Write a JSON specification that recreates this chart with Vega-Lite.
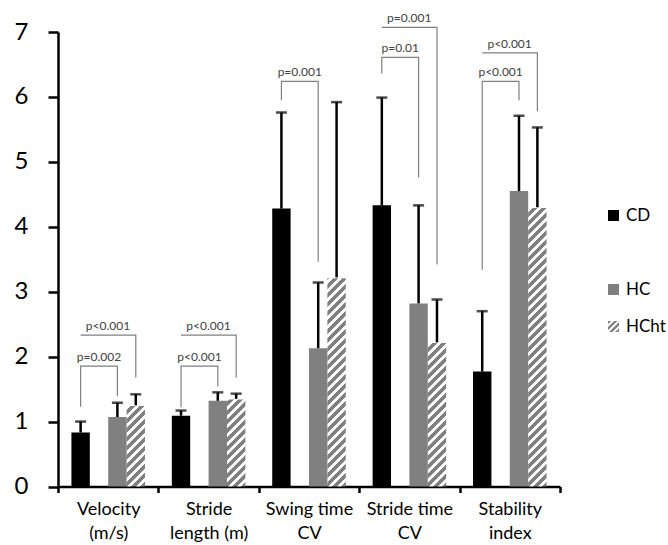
{
  "$schema": "https://vega.github.io/schema/vega-lite/v6.json",
  "width": 502,
  "height": 454.5,
  "autosize": {"type": "none"},
  "padding": {"left": 58, "top": 32, "right": 108, "bottom": 58.5},
  "config": {"view": {"stroke": null}, "font": "Lato"},
  "datasets": {
    "bars": [
      {"measure": "Velocity\n(m/s)", "group": "CD", "value": 0.83, "upper": 1.0},
      {"measure": "Velocity\n(m/s)", "group": "HC", "value": 1.07, "upper": 1.29},
      {"measure": "Velocity\n(m/s)", "group": "HCht", "value": 1.25, "upper": 1.42},
      {"measure": "Stride\nlength (m)", "group": "CD", "value": 1.09, "upper": 1.17},
      {"measure": "Stride\nlength (m)", "group": "HC", "value": 1.32, "upper": 1.45},
      {"measure": "Stride\nlength (m)", "group": "HCht", "value": 1.35, "upper": 1.43},
      {"measure": "Swing time\nCV", "group": "CD", "value": 4.28, "upper": 5.76},
      {"measure": "Swing time\nCV", "group": "HC", "value": 2.13, "upper": 3.14},
      {"measure": "Swing time\nCV", "group": "HCht", "value": 3.22, "upper": 5.92},
      {"measure": "Stride time\nCV", "group": "CD", "value": 4.33, "upper": 5.99},
      {"measure": "Stride time\nCV", "group": "HC", "value": 2.82, "upper": 4.33},
      {"measure": "Stride time\nCV", "group": "HCht", "value": 2.22, "upper": 2.88},
      {"measure": "Stability\nindex", "group": "CD", "value": 1.77, "upper": 2.70},
      {"measure": "Stability\nindex", "group": "HC", "value": 4.55, "upper": 5.71},
      {"measure": "Stability\nindex", "group": "HCht", "value": 4.30, "upper": 5.53}
    ],
    "brackets": [
      {"measure": "Velocity\n(m/s)", "id": "v1", "order": 1, "group": "CD", "y": 1.23},
      {"measure": "Velocity\n(m/s)", "id": "v1", "order": 2, "group": "CD", "y": 1.854},
      {"measure": "Velocity\n(m/s)", "id": "v1", "order": 3, "group": "HC", "y": 1.854},
      {"measure": "Velocity\n(m/s)", "id": "v1", "order": 4, "group": "HC", "y": 1.39},
      {"measure": "Velocity\n(m/s)", "id": "v2", "order": 1, "group": "CD", "y": 2.33},
      {"measure": "Velocity\n(m/s)", "id": "v2", "order": 2, "group": "HCht", "y": 2.33},
      {"measure": "Velocity\n(m/s)", "id": "v2", "order": 3, "group": "HCht", "y": 1.68},
      {"measure": "Stride\nlength (m)", "id": "s1", "order": 1, "group": "CD", "y": 1.22},
      {"measure": "Stride\nlength (m)", "id": "s1", "order": 2, "group": "CD", "y": 1.854},
      {"measure": "Stride\nlength (m)", "id": "s1", "order": 3, "group": "HC", "y": 1.854},
      {"measure": "Stride\nlength (m)", "id": "s1", "order": 4, "group": "HC", "y": 1.54},
      {"measure": "Stride\nlength (m)", "id": "s2", "order": 1, "group": "CD", "y": 2.33},
      {"measure": "Stride\nlength (m)", "id": "s2", "order": 2, "group": "HCht", "y": 2.33},
      {"measure": "Stride\nlength (m)", "id": "s2", "order": 3, "group": "HCht", "y": 1.68},
      {"measure": "Swing time\nCV", "id": "w1", "order": 1, "group": "CD", "y": 5.95},
      {"measure": "Swing time\nCV", "id": "w1", "order": 2, "group": "CD", "y": 6.24},
      {"measure": "Swing time\nCV", "id": "w1", "order": 3, "group": "HC", "y": 6.24},
      {"measure": "Swing time\nCV", "id": "w1", "order": 4, "group": "HC", "y": 3.46},
      {"measure": "Stride time\nCV", "id": "t1", "order": 1, "group": "CD", "y": 6.36},
      {"measure": "Stride time\nCV", "id": "t1", "order": 2, "group": "CD", "y": 6.61},
      {"measure": "Stride time\nCV", "id": "t1", "order": 3, "group": "HC", "y": 6.61},
      {"measure": "Stride time\nCV", "id": "t1", "order": 4, "group": "HC", "y": 4.76},
      {"measure": "Stride time\nCV", "id": "t2", "order": 1, "group": "CD", "y": 7.07},
      {"measure": "Stride time\nCV", "id": "t2", "order": 2, "group": "HCht", "y": 7.07},
      {"measure": "Stride time\nCV", "id": "t2", "order": 3, "group": "HCht", "y": 3.42},
      {"measure": "Stability\nindex", "id": "b1", "order": 1, "group": "CD", "y": 3.34},
      {"measure": "Stability\nindex", "id": "b1", "order": 2, "group": "CD", "y": 6.24},
      {"measure": "Stability\nindex", "id": "b1", "order": 3, "group": "HC", "y": 6.24},
      {"measure": "Stability\nindex", "id": "b1", "order": 4, "group": "HC", "y": 5.95},
      {"measure": "Stability\nindex", "id": "b2", "order": 1, "group": "CD", "y": 6.68},
      {"measure": "Stability\nindex", "id": "b2", "order": 2, "group": "HCht", "y": 6.68},
      {"measure": "Stability\nindex", "id": "b2", "order": 3, "group": "HCht", "y": 5.78}
    ],
    "labels": [
      {"measure": "Velocity\n(m/s)", "group": "gap", "kind": "inner", "y": 1.854, "text": "p=0.002"},
      {"measure": "Velocity\n(m/s)", "group": "gap", "kind": "outer", "y": 2.33, "text": "p<0.001"},
      {"measure": "Stride\nlength (m)", "group": "gap", "kind": "inner", "y": 1.854, "text": "p<0.001"},
      {"measure": "Stride\nlength (m)", "group": "gap", "kind": "outer", "y": 2.33, "text": "p<0.001"},
      {"measure": "Swing time\nCV", "group": "gap", "kind": "inner", "y": 6.24, "text": "p=0.001"},
      {"measure": "Stride time\nCV", "group": "gap", "kind": "inner", "y": 6.61, "text": "p=0.01"},
      {"measure": "Stride time\nCV", "group": "gap", "kind": "outer", "y": 7.07, "text": "p=0.001"},
      {"measure": "Stability\nindex", "group": "gap", "kind": "inner", "y": 6.24, "text": "p<0.001"},
      {"measure": "Stability\nindex", "group": "gap", "kind": "outer", "y": 6.68, "text": "p<0.001"}
    ]
  },
  "encoding": {
    "x": {
      "field": "measure",
      "type": "nominal",
      "title": null,
      "scale": {
        "domain": ["Velocity\n(m/s)", "Stride\nlength (m)", "Swing time\nCV", "Stride time\nCV", "Stability\nindex"],
        "paddingInner": 0,
        "paddingOuter": 0
      },
      "axis": {
        "labelAngle": 0,
        "labelExpr": "split(datum.label, '\\n')",
        "labelFontSize": 18,
        "labelLineHeight": 24,
        "labelFont": "Lato",
        "labelColor": "#000000",
        "labelPadding": 8,
        "tickBand": "extent",
        "tickSize": 6,
        "tickWidth": 2.5,
        "tickColor": "#000000",
        "domainColor": "#000000",
        "domainWidth": 2.5
      }
    },
    "xOffset": {
      "field": "group",
      "type": "nominal",
      "scale": {"domain": ["CD", "gap", "HC", "HCht"], "paddingInner": 0, "paddingOuter": 0.73}
    }
  },
  "layer": [
    {
      "data": {"name": "bars"},
      "transform": [{"filter": "datum.group === 'HCht'"}],
      "mark": {
        "type": "bar",
        "fill": {
          "gradient": "linear",
          "x1": 0, "y1": 0, "x2": 0.0773, "y2": 1.2272,
          "stops": [
            {"offset": 0, "color": "#808080"}, {"offset": 0.014, "color": "#808080"}, {"offset": 0.014, "color": "#ffffff"}, {"offset": 0.025, "color": "#ffffff"},
            {"offset": 0.025, "color": "#808080"}, {"offset": 0.039, "color": "#808080"}, {"offset": 0.039, "color": "#ffffff"}, {"offset": 0.05, "color": "#ffffff"},
            {"offset": 0.05, "color": "#808080"}, {"offset": 0.064, "color": "#808080"}, {"offset": 0.064, "color": "#ffffff"}, {"offset": 0.075, "color": "#ffffff"},
            {"offset": 0.075, "color": "#808080"}, {"offset": 0.089, "color": "#808080"}, {"offset": 0.089, "color": "#ffffff"}, {"offset": 0.1, "color": "#ffffff"},
            {"offset": 0.1, "color": "#808080"}, {"offset": 0.114, "color": "#808080"}, {"offset": 0.114, "color": "#ffffff"}, {"offset": 0.125, "color": "#ffffff"},
            {"offset": 0.125, "color": "#808080"}, {"offset": 0.139, "color": "#808080"}, {"offset": 0.139, "color": "#ffffff"}, {"offset": 0.15, "color": "#ffffff"},
            {"offset": 0.15, "color": "#808080"}, {"offset": 0.164, "color": "#808080"}, {"offset": 0.164, "color": "#ffffff"}, {"offset": 0.175, "color": "#ffffff"},
            {"offset": 0.175, "color": "#808080"}, {"offset": 0.189, "color": "#808080"}, {"offset": 0.189, "color": "#ffffff"}, {"offset": 0.2, "color": "#ffffff"},
            {"offset": 0.2, "color": "#808080"}, {"offset": 0.214, "color": "#808080"}, {"offset": 0.214, "color": "#ffffff"}, {"offset": 0.225, "color": "#ffffff"},
            {"offset": 0.225, "color": "#808080"}, {"offset": 0.239, "color": "#808080"}, {"offset": 0.239, "color": "#ffffff"}, {"offset": 0.25, "color": "#ffffff"},
            {"offset": 0.25, "color": "#808080"}, {"offset": 0.264, "color": "#808080"}, {"offset": 0.264, "color": "#ffffff"}, {"offset": 0.275, "color": "#ffffff"},
            {"offset": 0.275, "color": "#808080"}, {"offset": 0.289, "color": "#808080"}, {"offset": 0.289, "color": "#ffffff"}, {"offset": 0.3, "color": "#ffffff"},
            {"offset": 0.3, "color": "#808080"}, {"offset": 0.314, "color": "#808080"}, {"offset": 0.314, "color": "#ffffff"}, {"offset": 0.325, "color": "#ffffff"},
            {"offset": 0.325, "color": "#808080"}, {"offset": 0.339, "color": "#808080"}, {"offset": 0.339, "color": "#ffffff"}, {"offset": 0.35, "color": "#ffffff"},
            {"offset": 0.35, "color": "#808080"}, {"offset": 0.364, "color": "#808080"}, {"offset": 0.364, "color": "#ffffff"}, {"offset": 0.375, "color": "#ffffff"},
            {"offset": 0.375, "color": "#808080"}, {"offset": 0.389, "color": "#808080"}, {"offset": 0.389, "color": "#ffffff"}, {"offset": 0.4, "color": "#ffffff"},
            {"offset": 0.4, "color": "#808080"}, {"offset": 0.414, "color": "#808080"}, {"offset": 0.414, "color": "#ffffff"}, {"offset": 0.425, "color": "#ffffff"},
            {"offset": 0.425, "color": "#808080"}, {"offset": 0.439, "color": "#808080"}, {"offset": 0.439, "color": "#ffffff"}, {"offset": 0.45, "color": "#ffffff"},
            {"offset": 0.45, "color": "#808080"}, {"offset": 0.464, "color": "#808080"}, {"offset": 0.464, "color": "#ffffff"}, {"offset": 0.475, "color": "#ffffff"},
            {"offset": 0.475, "color": "#808080"}, {"offset": 0.489, "color": "#808080"}, {"offset": 0.489, "color": "#ffffff"}, {"offset": 0.5, "color": "#ffffff"},
            {"offset": 0.5, "color": "#808080"}, {"offset": 0.514, "color": "#808080"}, {"offset": 0.514, "color": "#ffffff"}, {"offset": 0.525, "color": "#ffffff"},
            {"offset": 0.525, "color": "#808080"}, {"offset": 0.539, "color": "#808080"}, {"offset": 0.539, "color": "#ffffff"}, {"offset": 0.55, "color": "#ffffff"},
            {"offset": 0.55, "color": "#808080"}, {"offset": 0.564, "color": "#808080"}, {"offset": 0.564, "color": "#ffffff"}, {"offset": 0.575, "color": "#ffffff"},
            {"offset": 0.575, "color": "#808080"}, {"offset": 0.589, "color": "#808080"}, {"offset": 0.589, "color": "#ffffff"}, {"offset": 0.6, "color": "#ffffff"},
            {"offset": 0.6, "color": "#808080"}, {"offset": 0.614, "color": "#808080"}, {"offset": 0.614, "color": "#ffffff"}, {"offset": 0.625, "color": "#ffffff"},
            {"offset": 0.625, "color": "#808080"}, {"offset": 0.639, "color": "#808080"}, {"offset": 0.639, "color": "#ffffff"}, {"offset": 0.65, "color": "#ffffff"},
            {"offset": 0.65, "color": "#808080"}, {"offset": 0.664, "color": "#808080"}, {"offset": 0.664, "color": "#ffffff"}, {"offset": 0.675, "color": "#ffffff"},
            {"offset": 0.675, "color": "#808080"}, {"offset": 0.689, "color": "#808080"}, {"offset": 0.689, "color": "#ffffff"}, {"offset": 0.7, "color": "#ffffff"},
            {"offset": 0.7, "color": "#808080"}, {"offset": 0.714, "color": "#808080"}, {"offset": 0.714, "color": "#ffffff"}, {"offset": 0.725, "color": "#ffffff"},
            {"offset": 0.725, "color": "#808080"}, {"offset": 0.739, "color": "#808080"}, {"offset": 0.739, "color": "#ffffff"}, {"offset": 0.75, "color": "#ffffff"},
            {"offset": 0.75, "color": "#808080"}, {"offset": 0.764, "color": "#808080"}, {"offset": 0.764, "color": "#ffffff"}, {"offset": 0.775, "color": "#ffffff"},
            {"offset": 0.775, "color": "#808080"}, {"offset": 0.789, "color": "#808080"}, {"offset": 0.789, "color": "#ffffff"}, {"offset": 0.8, "color": "#ffffff"},
            {"offset": 0.8, "color": "#808080"}, {"offset": 0.814, "color": "#808080"}, {"offset": 0.814, "color": "#ffffff"}, {"offset": 0.825, "color": "#ffffff"},
            {"offset": 0.825, "color": "#808080"}, {"offset": 0.839, "color": "#808080"}, {"offset": 0.839, "color": "#ffffff"}, {"offset": 0.85, "color": "#ffffff"},
            {"offset": 0.85, "color": "#808080"}, {"offset": 0.864, "color": "#808080"}, {"offset": 0.864, "color": "#ffffff"}, {"offset": 1, "color": "#ffffff"}
          ]
        }
      },
      "encoding": {
        "y": {
          "datum": 4.5,
          "type": "quantitative",
          "title": null,
          "scale": {"domain": [0, 7], "nice": false},
          "axis": {
            "values": [0, 1, 2, 3, 4, 5, 6, 7],
            "format": "d",
            "grid": false,
            "labelFontSize": 24,
            "labelFont": "Lato",
            "labelColor": "#000000",
            "labelPadding": 20,
            "tickSize": 10,
            "tickWidth": 2.5,
            "tickColor": "#000000",
            "domainColor": "#000000",
            "domainWidth": 2.5
          }
        }
      }
    },
    {
      "data": {"name": "bars"},
      "transform": [{"filter": "datum.group === 'HCht'"}],
      "mark": {"type": "bar", "fill": "#ffffff", "stroke": "#ffffff", "strokeWidth": 1.5},
      "encoding": {
        "y": {"field": "value", "type": "quantitative", "title": null, "scale": {"domain": [0, 7], "nice": false}},
        "y2": {"datum": 4.6}
      }
    },
    {
      "data": {"name": "bars"},
      "transform": [{"filter": "datum.group !== 'HCht'"}],
      "mark": {"type": "bar"},
      "encoding": {
        "y": {"field": "value", "type": "quantitative", "title": null, "scale": {"domain": [0, 7], "nice": false}},
        "color": {
          "field": "group",
          "type": "nominal",
          "scale": {"domain": ["CD", "gap", "HC", "HCht"], "range": ["#000000", "#ffffff", "#808080", "#808080"]},
          "legend": {
            "title": null,
            "orient": "none",
            "legendX": 547,
            "legendY": 175,
            "labelFontSize": 17,
            "labelFont": "Lato",
            "labelColor": "#000000",
            "labelOffset": 4,
            "symbolSize": 121,
            "symbolType": "square",
            "symbolStrokeWidth": 0,
            "rowPadding": 19,
            "labelExpr": "datum.label === 'gap' ? '' : datum.label",
            "encode": {
              "symbols": {
                "update": {
                  "shape": {"signal": "datum.value === 'HCht' ? 'M-1,-1L-0.4,-1L-1,-0.4Z M0.1,-1L0.7,-1L-1,0.7L-1,0.1Z M-0.8,1L1,-0.8L1,-0.2L-0.2,1Z M0.3,1L1,0.3L1,0.9L0.9,1Z' : 'square'"}
                }
              }
            }
          }
        }
      }
    },
    {
      "data": {"name": "bars"},
      "mark": {"type": "rule", "color": "#000000", "strokeWidth": 2.5},
      "encoding": {
        "y": {"field": "value", "type": "quantitative", "title": null, "scale": {"domain": [0, 7], "nice": false}},
        "y2": {"field": "upper"}
      }
    },
    {
      "data": {"name": "bars"},
      "mark": {"type": "tick", "color": "#000000", "size": 11, "thickness": 2.5, "orient": "horizontal"},
      "encoding": {
        "y": {"field": "upper", "type": "quantitative", "title": null, "scale": {"domain": [0, 7], "nice": false}}
      }
    },
    {
      "data": {"name": "brackets"},
      "mark": {"type": "line", "color": "#808080", "strokeWidth": 1.2},
      "encoding": {
        "y": {"field": "y", "type": "quantitative", "title": null, "scale": {"domain": [0, 7], "nice": false}},
        "detail": {"field": "id"},
        "order": {"field": "order", "type": "quantitative"}
      }
    },
    {
      "data": {"name": "labels"},
      "transform": [{"filter": "datum.kind === 'inner'"}],
      "mark": {"type": "text", "baseline": "bottom", "dy": -2, "fontSize": 12, "font": "Lato", "color": "#404040"},
      "encoding": {
        "y": {"field": "y", "type": "quantitative", "title": null, "scale": {"domain": [0, 7], "nice": false}},
        "text": {"field": "text"}
      }
    },
    {
      "data": {"name": "labels"},
      "transform": [{"filter": "datum.kind === 'outer'"}],
      "mark": {"type": "text", "baseline": "bottom", "dy": -2, "dx": 9, "fontSize": 12, "font": "Lato", "color": "#404040"},
      "encoding": {
        "y": {"field": "y", "type": "quantitative", "title": null, "scale": {"domain": [0, 7], "nice": false}},
        "text": {"field": "text"}
      }
    }
  ]
}
